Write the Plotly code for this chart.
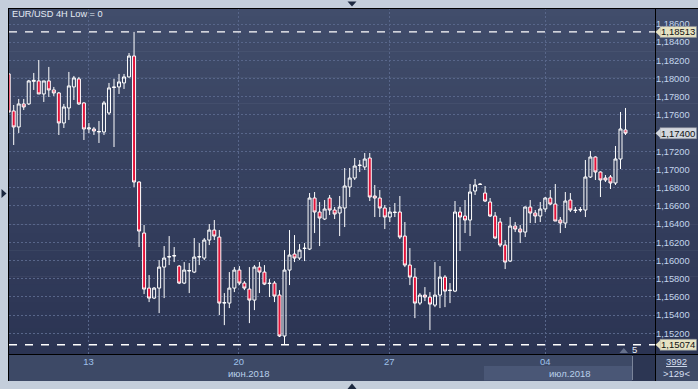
import plotly.graph_objects as go

# ---------------- data ----------------
opens = [1.18051, 1.17644, 1.17468, 1.17721, 1.17721, 1.17969, 1.17974, 1.17831, 1.17974, 1.17875,
         1.17842, 1.17512, 1.17677, 1.17908, 1.17996, 1.17732, 1.17446, 1.17446, 1.17413, 1.17413,
         1.17622, 1.17908, 1.17908, 1.17952, 1.18018, 1.18248, 1.16863, 1.16302, 1.15697, 1.15587,
         1.15697, 1.15928, 1.16038, 1.16049, 1.15939, 1.15752, 1.15884, 1.15873, 1.16038, 1.16027,
         1.16225, 1.16335, 1.16258, 1.15532, 1.15532, 1.15697, 1.15895, 1.15752, 1.15686, 1.15565,
         1.15928, 1.15873, 1.15752, 1.15752, 1.15620, 1.15170, 1.15895, 1.16071, 1.16027, 1.16137,
         1.16126, 1.16687, 1.16533, 1.16456, 1.16687, 1.16555, 1.16522, 1.16577, 1.16808, 1.16907,
         1.17050, 1.17028, 1.17127, 1.16709, 1.16687, 1.16577, 1.16478, 1.16533, 1.16533, 1.16269,
         1.15950, 1.15818, 1.15532, 1.15620, 1.15598, 1.15510, 1.15620, 1.15818, 1.15675, 1.15664,
         1.16533, 1.16489, 1.16445, 1.16764, 1.16841, 1.16742, 1.16643, 1.16489, 1.16423, 1.16170,
         1.15994, 1.16379, 1.16346, 1.16313, 1.16588, 1.16522, 1.16489, 1.16566, 1.16687, 1.16621,
         1.16445, 1.16412, 1.16665, 1.16555, 1.16555, 1.16555, 1.16918, 1.17138, 1.16973, 1.16907,
         1.16918, 1.16852, 1.17116, 1.17435]
highs = [1.18062, 1.17710, 1.17776, 1.17776, 1.17985, 1.18062, 1.18204, 1.17974, 1.18128, 1.17908,
         1.17853, 1.17721, 1.18073, 1.18029, 1.18018, 1.17740, 1.17512, 1.17468, 1.17534, 1.17754,
         1.17952, 1.17996, 1.18051, 1.18051, 1.18281, 1.18513, 1.16870, 1.16390, 1.15840, 1.15708,
         1.16005, 1.16159, 1.16269, 1.16148, 1.15950, 1.15983, 1.15972, 1.16247, 1.16192, 1.16247,
         1.16401, 1.16445, 1.16335, 1.15642, 1.15873, 1.15928, 1.15939, 1.15774, 1.15928, 1.15950,
         1.15983, 1.15950, 1.15796, 1.15774, 1.15675, 1.16115, 1.16335, 1.16280, 1.16181, 1.16192,
         1.16742, 1.16753, 1.16643, 1.16665, 1.16720, 1.16588, 1.16709, 1.17017, 1.17017, 1.17127,
         1.17105, 1.17182, 1.17182, 1.16830, 1.16775, 1.16610, 1.16588, 1.16632, 1.16709, 1.16423,
         1.16137, 1.15917, 1.15642, 1.15708, 1.15653, 1.15983, 1.15939, 1.15840, 1.15752, 1.16654,
         1.16588, 1.16665, 1.16841, 1.16896, 1.16852, 1.16819, 1.16687, 1.16533, 1.16467, 1.16225,
         1.16478, 1.16423, 1.16390, 1.16594, 1.16665, 1.16555, 1.16643, 1.16698, 1.16775, 1.16841,
         1.16478, 1.16753, 1.16742, 1.16588, 1.16588, 1.17105, 1.17204, 1.17145, 1.16980, 1.16940,
         1.16940, 1.17259, 1.17633, 1.17677]
lows = [1.17622, 1.17270, 1.17402, 1.17655, 1.17710, 1.17875, 1.17831, 1.17743, 1.17798, 1.17809,
        1.17380, 1.17457, 1.17545, 1.17765, 1.17710, 1.17325, 1.17402, 1.17380, 1.17292, 1.17380,
        1.17600, 1.17248, 1.17831, 1.17886, 1.18012, 1.16808, 1.16148, 1.15631, 1.15543, 1.15576,
        1.15422, 1.15587, 1.15950, 1.15983, 1.15741, 1.15741, 1.15642, 1.15862, 1.15950, 1.16005,
        1.16170, 1.16225, 1.15400, 1.15290, 1.15477, 1.15653, 1.15730, 1.15675, 1.15312, 1.15455,
        1.15642, 1.15730, 1.15598, 1.15543, 1.15159, 1.15074, 1.15730, 1.15983, 1.16005, 1.15994,
        1.16115, 1.16302, 1.16159, 1.16445, 1.16500, 1.16456, 1.16269, 1.16368, 1.16698, 1.16885,
        1.16973, 1.16995, 1.16654, 1.16478, 1.16478, 1.16346, 1.16423, 1.16478, 1.16236, 1.15928,
        1.15730, 1.15367, 1.15510, 1.15554, 1.15235, 1.15488, 1.15477, 1.15488, 1.15532, 1.15653,
        1.16104, 1.16302, 1.16269, 1.16720, 1.16830, 1.16643, 1.16478, 1.16236, 1.16148, 1.15906,
        1.15983, 1.16313, 1.16192, 1.16258, 1.16412, 1.16412, 1.16423, 1.16533, 1.16610, 1.16434,
        1.16302, 1.16357, 1.16533, 1.16522, 1.16533, 1.16478, 1.16907, 1.16885, 1.16698, 1.16863,
        1.16786, 1.16830, 1.17006, 1.17380]
closes = [1.17633, 1.17468, 1.17721, 1.17688, 1.17974, 1.17980, 1.17831, 1.17974, 1.17875, 1.17842,
          1.17512, 1.17688, 1.17919, 1.18007, 1.17721, 1.17446, 1.17457, 1.17424, 1.17418, 1.17732,
          1.17897, 1.17903, 1.17963, 1.18018, 1.18248, 1.16863, 1.16324, 1.15686, 1.15587, 1.15697,
          1.15928, 1.16027, 1.16043, 1.16054, 1.15752, 1.15895, 1.15890, 1.16038, 1.16043, 1.16225,
          1.16335, 1.16269, 1.15532, 1.15537, 1.15697, 1.15895, 1.15752, 1.15697, 1.15565, 1.15928,
          1.15873, 1.15741, 1.15747, 1.15609, 1.15170, 1.15895, 1.16060, 1.16027, 1.16115, 1.16132,
          1.16687, 1.16533, 1.16467, 1.16566, 1.16555, 1.16511, 1.16588, 1.16819, 1.16907, 1.17039,
          1.17045, 1.17116, 1.16698, 1.16687, 1.16577, 1.16478, 1.16533, 1.16528, 1.16258, 1.15950,
          1.15818, 1.15532, 1.15620, 1.15598, 1.15521, 1.15620, 1.15818, 1.15664, 1.15670, 1.16533,
          1.16478, 1.16445, 1.16753, 1.16830, 1.16836, 1.16654, 1.16489, 1.16247, 1.16170, 1.15983,
          1.16379, 1.16346, 1.16313, 1.16588, 1.16522, 1.16489, 1.16566, 1.16687, 1.16621, 1.16434,
          1.16412, 1.16654, 1.16555, 1.16550, 1.16560, 1.16918, 1.17138, 1.16973, 1.16885, 1.16885,
          1.16852, 1.17116, 1.17446, 1.17400]
bar_index = list(range(len(opens)))

day_labels = ["13", "20", "27", "04"]
day_label_bars = [15.9, 45.9, 75.9, 107.0]
month_labels = ["июн.2018", "июл.2018"]
month_label_bars = [47.9, 111.9]
price_ticks = [round(1.152 + 0.002 * k, 3) for k in range(18)]
chart_title = "EUR/USD 4H Low = 0"
corner_top = "3992"
corner_bottom = ">129<"
shift_text = "5"

# ---------------- geometry helpers ----------------
W, H = 698, 389
ML, MR, MT, MB = 9, 43, 8, 35
PW, PH = W - ML - MR, H - MT - MB
X_RANGE = [0.062, 128.88]
Y_RANGE = [1.149724, 1.187759]


def px(x):
    return (x - ML) / PW


def py(y):
    return 1 - (y - MT) / PH


def fmt_price(p):
    return ("%.5f" % p).replace(".", ",")


FONT = "Liberation Sans, Arial, sans-serif"

hi_price = max(highs)
lo_price = min(lows)
last_price = closes[-1]

fig = go.Figure()
fig.add_trace(go.Candlestick(
    x=bar_index, open=opens, high=highs, low=lows, close=closes,
    increasing=dict(fillcolor="rgba(0,0,0,0)", line=dict(color="#ffffff", width=1)),
    decreasing=dict(fillcolor="#e3133a", line=dict(color="#ffffff", width=1)),
    whiskerwidth=0, hoverinfo="skip", showlegend=False,
))

shapes = []
# gradient panel background (plot + price strip)
top_c = (0x41, 0x4d, 0x6b)
bot_c = (0x2b, 0x34, 0x53)
N = 40
for k in range(N):
    t = (k + 0.5) / N
    c = tuple(round(top_c[j] + (bot_c[j] - top_c[j]) * t) for j in range(3))
    y0 = 8 + k * 346 / N
    y1 = 8 + (k + 1) * 346 / N
    shapes.append(dict(type="rect", xref="paper", yref="paper", x0=px(8), x1=px(698),
                       y0=py(y1 + 0.6), y1=py(y0), fillcolor="rgb(%d,%d,%d)" % c,
                       line=dict(width=0), layer="below"))
# bottom date strip
shapes.append(dict(type="rect", xref="paper", yref="paper", x0=px(8), x1=px(698),
                   y0=py(381), y1=py(354), fillcolor="#3d4966", line=dict(width=0), layer="below"))
shapes.append(dict(type="rect", xref="paper", yref="paper", x0=px(484), x1=px(632),
                   y0=py(380.5), y1=py(366), fillcolor="#4a5776", line=dict(width=0), layer="below"))
shapes.append(dict(type="rect", xref="paper", yref="paper", x0=px(632), x1=px(655),
                   y0=py(381), y1=py(354), fillcolor="#2c3653", line=dict(width=0), layer="below"))
shapes.append(dict(type="line", xref="paper", yref="paper", x0=px(632.5), x1=px(632.5),
                   y0=py(380), y1=py(356), line=dict(color="#7a849a", width=1), layer="below"))
# black frame lines
for (xa, ya, xb, yb) in [(8.5, 8, 8.5, 381), (8, 8.5, 698, 8.5), (655.5, 8, 655.5, 381), (8, 354.5, 698, 354.5)]:
    shapes.append(dict(type="line", xref="paper", yref="paper", x0=px(xa), y0=py(ya), x1=px(xb), y1=py(yb),
                       line=dict(color="#000000", width=1), layer="above"))
# small frame arrows
tri = "#1c2940"
shapes.append(dict(type="path", xref="paper", yref="paper",
                   path="M %f,%f L %f,%f L %f,%f Z" % (px(347.5), py(1.5), px(356.5), py(1.5), px(352), py(6.5)),
                   fillcolor=tri, line=dict(width=0)))
shapes.append(dict(type="path", xref="paper", yref="paper",
                   path="M %f,%f L %f,%f L %f,%f Z" % (px(347.5), py(389), px(356.5), py(389), px(352), py(383.5)),
                   fillcolor=tri, line=dict(width=0)))
shapes.append(dict(type="path", xref="paper", yref="paper",
                   path="M %f,%f L %f,%f L %f,%f Z" % (px(1.5), py(189), px(1.5), py(198), px(6.5), py(193.5)),
                   fillcolor=tri, line=dict(width=0)))
# shift marker triangle
shapes.append(dict(type="path", xref="paper", yref="paper",
                   path="M %f,%f L %f,%f L %f,%f Z" % (px(619.5), py(353), px(628), py(353), px(623.8), py(348)),
                   fillcolor="#66718c", line=dict(width=0)))

# dashed high / low lines
for p in (hi_price, lo_price):
    shapes.append(dict(type="line", xref="paper", yref="y", x0=0, x1=1, y0=p, y1=p,
                       line=dict(color="#ffffff", width=1.3, dash="8px,8px"), layer="above"))

# price label boxes
ppx = (Y_RANGE[1] - Y_RANGE[0]) / PH
annotations = []
for p, col in ((hi_price, "#e6e2c2"), (last_price, "#d3d7de"), (lo_price, "#e6e2c2")):
    shapes.append(dict(type="rect", xref="paper", yref="y", x0=px(660), x1=px(696.5),
                       y0=p - 5.5 * ppx, y1=p + 5.5 * ppx, fillcolor=col,
                       line=dict(color="#8a8f99", width=0.6), layer="above"))
    shapes.append(dict(type="path", xref="paper", yref="y",
                       path="M %f,%f L %f,%f L %f,%f Z" % (px(660.3), p + 4.5 * ppx, px(655.5), p, px(660.3), p - 4.5 * ppx),
                       fillcolor=col, line=dict(width=0), layer="above"))
    annotations.append(dict(xref="paper", yref="y", x=px(678.3), y=p, text=fmt_price(p),
                            showarrow=False, xanchor="center", yanchor="middle",
                            font=dict(family=FONT, size=9.5, color="#111111")))

annotations.append(dict(xref="paper", yref="paper", x=px(10), y=py(14), text=chart_title, showarrow=False,
                        xanchor="left", yanchor="middle", font=dict(family=FONT, size=9.2, color="#e4ebf5")))
for lbl, b in zip(month_labels, month_label_bars):
    annotations.append(dict(xref="x", yref="paper", x=b, y=py(373.5), text=lbl, showarrow=False,
                            xanchor="center", yanchor="middle", font=dict(family=FONT, size=9.5, color="#b9cfea")))
annotations.append(dict(xref="paper", yref="paper", x=px(676.5), y=py(361), text="<u>" + corner_top + "</u>",
                        showarrow=False, xanchor="center", yanchor="middle",
                        font=dict(family=FONT, size=9.5, color="#d5dff0")))
annotations.append(dict(xref="paper", yref="paper", x=px(676.5), y=py(373.5), text=corner_bottom,
                        showarrow=False, xanchor="center", yanchor="middle",
                        font=dict(family=FONT, size=9.5, color="#d5dff0")))
annotations.append(dict(xref="paper", yref="paper", x=px(634), y=py(349.5), text=shift_text,
                        showarrow=False, xanchor="center", yanchor="middle",
                        font=dict(family=FONT, size=9.5, color="#e8eef8")))

# tick labels (the one hidden under the last-price box is left blank)
price_ticktext = ["" if abs(t - last_price) < 1e-9 else fmt_price(t) for t in price_ticks]

grid_c = "#58668a"
fig.update_layout(
    width=W, height=H, margin=dict(l=ML, r=MR, t=MT, b=MB, pad=0),
    paper_bgcolor="#c4cedb", plot_bgcolor="rgba(0,0,0,0)",
    showlegend=False, hovermode=False, dragmode=False,
    boxgap=0.14,
    shapes=shapes, annotations=annotations,
    xaxis=dict(range=X_RANGE, tickvals=day_label_bars, ticktext=day_labels, showgrid=True,
               gridcolor=grid_c, griddash="2px,2px", gridwidth=1, zeroline=False, showline=False,
               ticks="", tickfont=dict(family=FONT, size=9.5, color="#9fc1ea"),
               rangeslider=dict(visible=False), fixedrange=True),
    yaxis=dict(range=Y_RANGE, side="right", tickvals=price_ticks, ticktext=price_ticktext, showgrid=True,
               gridcolor=grid_c, griddash="2px,2px", gridwidth=1, zeroline=False, showline=False,
               ticks="", tickfont=dict(family=FONT, size=9.3, color="#c3d5ec"), fixedrange=True),
)

fig.write_html("out.html", config={"displayModeBar": False, "staticPlot": True},
               post_script="document.body.style.margin='0';document.body.style.overflow='hidden';")
